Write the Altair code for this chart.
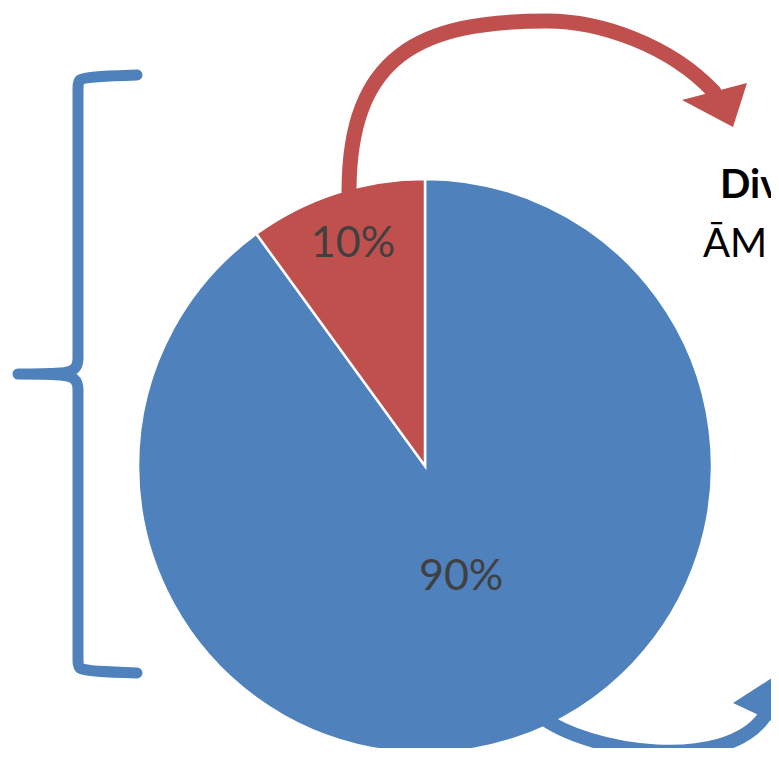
import altair as alt
import pandas as pd

# ---- data ----
segments = ["Rest", "Share"]
values = [90, 10]
labels = ["90%", "10%"]
seg_order = [1, 2]
seg_colors = ["#4F81BD", "#C0504D"]
side_texts = ["Div", "ĀM"]

BLUE = "#4F81BD"
RED = "#C0504D"
W, H = 763, 740
OFF = -8  # page margin offset so paths can use page pixels
CX, CY = 425 - 8, 466 - 8
R = 287

pie_df = pd.DataFrame({"segment": segments, "value": values,
                       "label": labels, "idx": seg_order})

color_scale = alt.Scale(domain=segments, range=seg_colors)
theta_scale = alt.Scale(domain=[0, sum(values)])

base = alt.Chart(pie_df).transform_stack(
    stack="value", groupby=[], as_=["v0", "v1"],
    sort=[alt.SortField("idx", order="ascending")]
).transform_calculate(mid="(datum.v0 + datum.v1) / 2")

pie = base.mark_arc(outerRadius=R, stroke="white", strokeWidth=2.5).encode(
    theta=alt.Theta("v0:Q", scale=theta_scale),
    theta2="v1:Q",
    color=alt.Color("segment:N", scale=color_scale, legend=None),
    x=alt.value(CX), y=alt.value(CY),
)

def label_layer(lab, rad):
    return base.transform_filter(alt.datum.label == lab).mark_text(
        radius=rad, font="Lato", fontSize=43, color="#404040"
    ).encode(
        theta=alt.Theta("mid:Q", scale=theta_scale),
        text="label:N",
        x=alt.value(CX), y=alt.value(CY),
    )

lab_big = label_layer("90%", 117)
lab_small = label_layer("10%", 233)

one = alt.Data(values=[{"k": 1}])

def deco(path, color, width=None, filled=False):
    kw = dict(shape=path, size=4, opacity=1, filled=filled)
    if filled:
        kw.update(fill=color, strokeWidth=0)
    else:
        kw.update(stroke=color, strokeWidth=width, strokeCap="round",
                  strokeJoin="round", fill="transparent")
    return alt.Chart(one).mark_point(**kw).encode(
        x=alt.value(OFF), y=alt.value(OFF)
    )

brace_path = (
    "M137,75 C105,76 84,77 80,80 C78,82 78,85 78,92 L78,358 "
    "C78,368 74,372 60,373 C45,374 30,374 18,374 "
    "M18,374 C30,374 45,374 60,375 C74,376 78,380 78,390 L78,656 "
    "C78,663 78,666 80,668 C84,671 105,672 137,673"
)
red_arc_path = "M349,192 C349,55 420,21 547,21 C600,21 670,45 714,92"
red_head_path = "M682,100 L747,83 L733,127 Z"
blue_arc_path = "M540,716 C590,754 725,772 764,717"
blue_head_path = "M733,703 L786,669 L797,733 Z"

brace = deco(brace_path, BLUE, 11)
red_arc = deco(red_arc_path, RED, 15)
red_head = deco(red_head_path, RED, filled=True)
blue_arc = deco(blue_arc_path, BLUE, 14)
blue_head = deco(blue_head_path, BLUE, filled=True)

txt_df = pd.DataFrame({"t": side_texts})
div_text = alt.Chart(txt_df).transform_filter(alt.datum.t == side_texts[0]).mark_text(
    font="Lato", fontSize=40, fontWeight="bold", color="black",
    align="left", baseline="alphabetic"
).encode(text="t:N", x=alt.value(720 + OFF), y=alt.value(198 + OFF))
am_text = alt.Chart(txt_df).transform_filter(alt.datum.t == side_texts[1]).mark_text(
    font="Lato", fontSize=40, color="black",
    align="left", baseline="alphabetic"
).encode(text="t:N", x=alt.value(703 + OFF), y=alt.value(257 + OFF))

chart = alt.layer(
    pie, brace, red_arc, red_head, blue_arc, blue_head,
    lab_big, lab_small, div_text, am_text
).properties(
    width=W, height=H, padding=0, autosize=alt.AutoSizeParams(type="none")
).configure_view(strokeWidth=0)

chart.save("out.html", embed_options={"renderer": "svg", "actions": False})
